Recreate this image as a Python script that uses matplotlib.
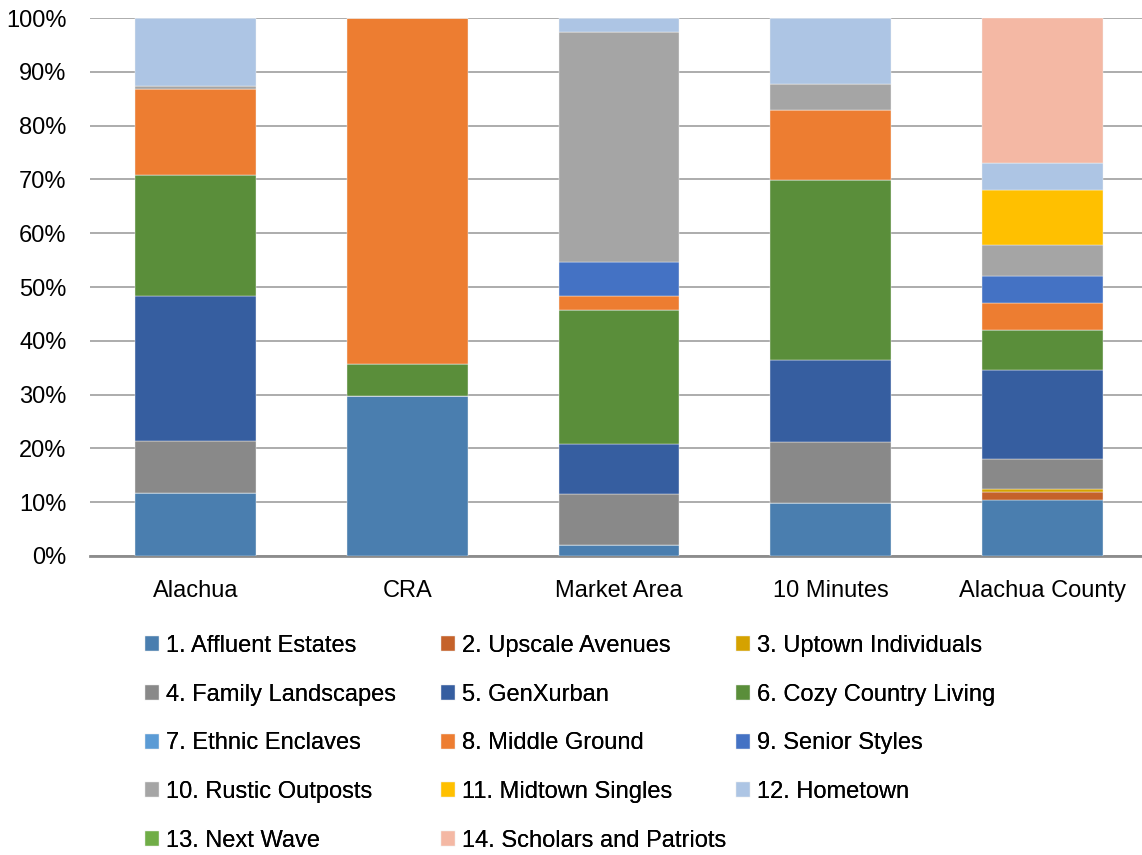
import numpy as np
import matplotlib.pyplot as plt
from matplotlib.ticker import PercentFormatter

plt.rcParams['font.family'] = ['Liberation Sans', 'DejaVu Sans']

# ------------------------------------------------------------
# data (percent of households by Tapestry LifeMode group)
# ------------------------------------------------------------
areas = ["Alachua", "CRA", "Market Area", "10 Minutes", "Alachua County"]

groups = ["1. Affluent Estates", "2. Upscale Avenues", "3. Uptown Individuals",
          "4. Family Landscapes", "5. GenXurban", "6. Cozy Country Living",
          "7. Ethnic Enclaves", "8. Middle Ground", "9. Senior Styles",
          "10. Rustic Outposts", "11. Midtown Singles", "12. Hometown",
          "13. Next Wave", "14. Scholars and Patriots"]

affluent = [11.7, 29.7, 2.1, 9.9, 10.5]
upscale = [0, 0, 0, 0, 1.4]
uptown = [0, 0, 0, 0, 0.5]
family = [9.6, 0, 9.5, 11.2, 5.6]
genxurban = [27.1, 0, 9.3, 15.3, 16.5]
cozy = [22.5, 5.9, 24.8, 33.4, 7.6]
ethnic = [0, 0, 0, 0, 0]
middle = [15.9, 64.4, 2.7, 13.1, 4.9]
senior = [0, 0, 6.2, 0, 5.1]
rustic = [0.5, 0, 42.8, 4.8, 5.7]
midtown = [0, 0, 0, 0, 10.2]
hometown = [12.7, 0, 2.6, 12.3, 5.0]
next_wave = [0, 0, 0, 0, 0]
scholars = [0, 0, 0, 0, 27.0]

series = [affluent, upscale, uptown, family, genxurban, cozy, ethnic,
          middle, senior, rustic, midtown, hometown, next_wave, scholars]

colors = ["#4A7EAF", "#C5622A", "#D5A200", "#898989", "#365EA0", "#5A8E3A",
          "#5B9BD5", "#ED7D31", "#4472C4", "#A5A5A5", "#FFC000", "#ADC5E4",
          "#70AD47", "#F4B8A4"]

# ------------------------------------------------------------
# plot
# ------------------------------------------------------------
W, H = 1142, 855
fig = plt.figure(figsize=(W / 100, H / 100), dpi=100)
ax = fig.add_axes([90 / W, 1 - 556 / H, 1058 / W, 538 / H])

x = np.arange(len(areas))
bottom = np.zeros(len(areas))
handles = []
for name, vals, col in zip(groups, series, colors):
    vals = np.array(vals, dtype=float)
    b = ax.bar(x, vals, bottom=bottom, width=0.57, color=col,
               edgecolor="#F2F2F2", linewidth=0.3, label=name, zorder=3)
    handles.append(b)
    bottom += vals

ax.set_xlim(-0.5, len(areas) - 0.5)
ax.set_ylim(0, 100)
ax.set_yticks(np.arange(0, 101, 10))
ax.yaxis.set_major_formatter(PercentFormatter(decimals=0))
ax.grid(axis="y", color="#A6A6A6", linewidth=1.3, zorder=0)
ax.set_axisbelow(True)

for s in ["top", "right", "left"]:
    ax.spines[s].set_visible(False)
ax.spines["bottom"].set_color("#8C8C8C")
ax.spines["bottom"].set_linewidth(2)

ax.set_xticks(x)
ax.set_xticklabels(areas)
ax.tick_params(axis="both", length=0, labelsize=17, colors="black")
ax.tick_params(axis="y", pad=17)
ax.tick_params(axis="x", pad=17)

# legend: Excel fills row by row, 3 columns at fixed positions
col_x = [145, 441, 736]
for c in range(3):
    idx = list(range(c, len(groups), 3))
    leg = fig.legend([handles[i] for i in idx], [groups[i] for i in idx],
                     loc="upper left", bbox_to_anchor=(col_x[c] / W, 1 - 635 / H),
                     frameon=False, fontsize=17, handlelength=0.6,
                     handleheight=0.6, handletextpad=0.3, labelspacing=1.13,
                     borderaxespad=0, borderpad=0)
    fig.add_artist(leg)

fig.savefig("out.png", dpi=100)
